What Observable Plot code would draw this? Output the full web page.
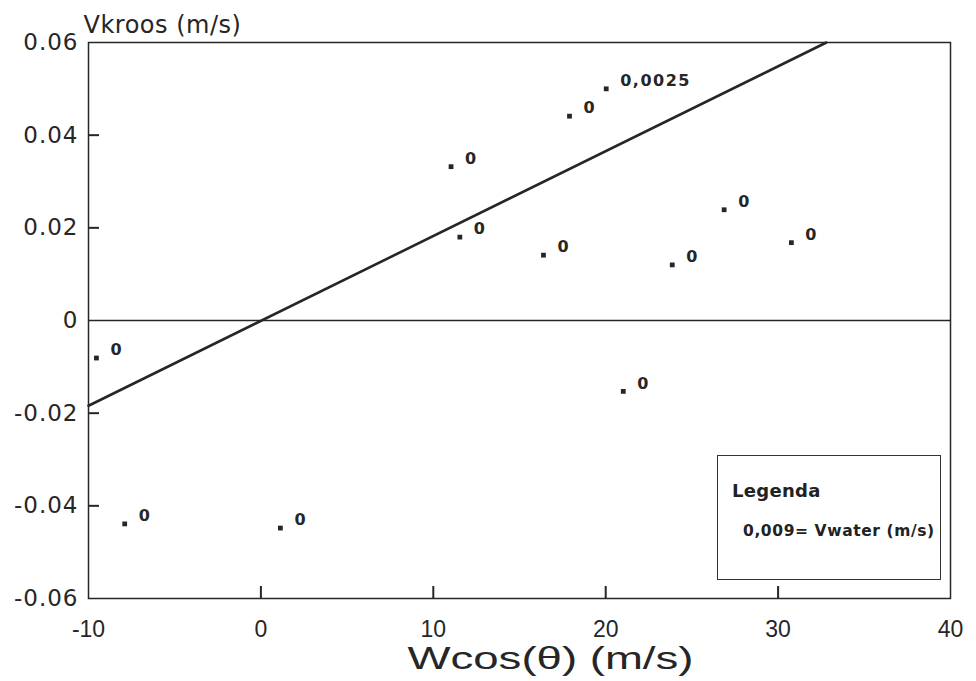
<!DOCTYPE html>
<html>
<head>
<meta charset="utf-8">
<script src="https://cdn.jsdelivr.net/npm/d3@7"></script>
<script src="https://cdn.jsdelivr.net/npm/@observablehq/plot@0.6"></script>
<style>
  body { margin: 0; background: #fff; }
  #wrap { position: relative; width: 976px; height: 681px; background: #fff; }
  #legend {
    position: absolute; left: 717px; top: 455px; width: 224px; height: 125px;
    box-sizing: border-box; border: 1.4px solid #333; background: #fff;
    font-family: "DejaVu Sans", sans-serif; font-weight: bold; color: #222;
  }
  #legend .title { position: absolute; left: 14px; top: 24px; font-size: 18px; letter-spacing: 0.3px; }
  #legend .entry { position: absolute; left: 25px; top: 66px; font-size: 15.5px; letter-spacing: 0.6px; white-space: nowrap; }
  [aria-description="point-labels"] text { letter-spacing: 1.5px; }
  [aria-description="y-title"] text { letter-spacing: 0.5px; }
  [aria-label="y-axis tick label"] text { letter-spacing: 1px; }
</style>
</head>
<body>
<div id="wrap"></div>
<script>
// ---- data ----
const wcos   = [-9.54, -7.90, 1.13, 11.03, 17.9, 20.03, 11.54, 16.39, 23.86, 26.87, 30.77, 21.02];
const vkroos = [-0.0081, -0.0439, -0.0448, 0.0332, 0.0441, 0.0500, 0.0180, 0.0141, 0.0120, 0.0239, 0.0168, -0.0153];
const vwaterLabels = ["0", "0", "0", "0", "0", "0,0025", "0", "0", "0", "0", "0", "0"];

const fitW = [-10, 32.8];
const fitV = [-0.0184, 0.06];

const xDomain = [-10, 40];
const yDomain = [-0.06, 0.06];
const xTicks = [-10, 0, 10, 20, 30, 40];
const xInnerTicks = [0, 10, 20, 30];
const yTicks = [-0.06, -0.04, -0.02, 0, 0.02, 0.04, 0.06];
const yInnerTicks = [-0.04, -0.02, 0.02, 0.04];

const xTitle = "Wcos(θ) (m/s)";
const yTitle = "Vkroos (m/s)";
const legendTitle = "Legenda";
const legendEntry = "0,009= Vwater (m/s)";

// ---- build tables ----
const points = wcos.map((w, i) => ({w, v: vkroos[i], label: vwaterLabels[i]}));
const fit = fitW.map((w, i) => ({w, v: fitV[i]}));

const ink = "#262626";
const yFmt = d => d === 0 ? "0" : d.toFixed(2);

const W = 976, H = 681, mL = 88, mR = 26, mT = 42, mB = 83;
const plotW = W - mL - mR, plotH = H - mT - mB;
// inward tick lengths expressed in scale units (12 px and 11 px)
const xTickLenV = (yDomain[1] - yDomain[0]) * 12 / plotH;
const yTickLenW = (xDomain[1] - xDomain[0]) * 11 / plotW;

const chart = Plot.plot({
  width: W,
  height: H,
  marginLeft: mL,
  marginRight: mR,
  marginTop: mT,
  marginBottom: mB,
  style: {background: "#fff", color: ink, fontFamily: "DejaVu Sans, sans-serif"},
  x: {domain: xDomain},
  y: {domain: yDomain},
  marks: [
    Plot.ruleY([0], {stroke: ink, strokeWidth: 1.3}),
    Plot.line(fit, {x: "w", y: "v", stroke: ink, strokeWidth: 2.6}),
    Plot.dot(points, {x: "w", y: "v", symbol: "square", r: 2.7, fill: ink, stroke: "none"}),
    Plot.text(points, {
      x: "w", y: "v", text: "label", dx: 14, dy: -8, textAnchor: "start",
      fontSize: 16, fontWeight: "bold", fill: ink, ariaDescription: "point-labels"
    }),
    Plot.frame({stroke: ink, strokeWidth: 1.5}),
    Plot.ruleX(xInnerTicks, {x: d => d, y1: yDomain[0], y2: yDomain[0] + xTickLenV, stroke: ink, strokeWidth: 2}),
    Plot.ruleY(yInnerTicks, {y: d => d, x1: xDomain[0], x2: xDomain[0] + yTickLenW, stroke: ink, strokeWidth: 2}),
    Plot.axisX(xTicks, {
      tickSize: 0, tickPadding: 22, tickFormat: d => String(d),
      fontSize: 23, fontFamily: "Liberation Sans, Arial, sans-serif", label: null
    }),
    Plot.axisY(yTicks, {
      tickSize: 0, tickPadding: 10, tickFormat: yFmt,
      fontSize: 23, fontFamily: "DejaVu Sans, sans-serif", label: null
    }),
    Plot.text([yTitle], {
      frameAnchor: "top-left", dx: -5, dy: -10, textAnchor: "start", lineAnchor: "bottom",
      fontSize: 24, fill: ink, ariaDescription: "y-title"
    }),
    Plot.text([xTitle], {
      frameAnchor: "bottom", dx: 31, dy: 61, textAnchor: "middle", lineAnchor: "middle",
      fontSize: 31, fontFamily: "Liberation Sans, Arial, sans-serif", fill: ink, ariaDescription: "x-title"
    })
  ]
});

// stretch the x title to the wide lettering of the original
d3.select(chart).selectAll('[aria-description="x-title"] text')
  .attr("textLength", 286).attr("lengthAdjust", "spacingAndGlyphs");

const wrap = document.getElementById("wrap");
wrap.appendChild(chart);

const legend = document.createElement("div");
legend.id = "legend";
const lt = document.createElement("div"); lt.className = "title"; lt.textContent = legendTitle;
const le = document.createElement("div"); le.className = "entry"; le.textContent = legendEntry;
legend.appendChild(lt); legend.appendChild(le);
wrap.appendChild(legend);
</script>
</body>
</html>
